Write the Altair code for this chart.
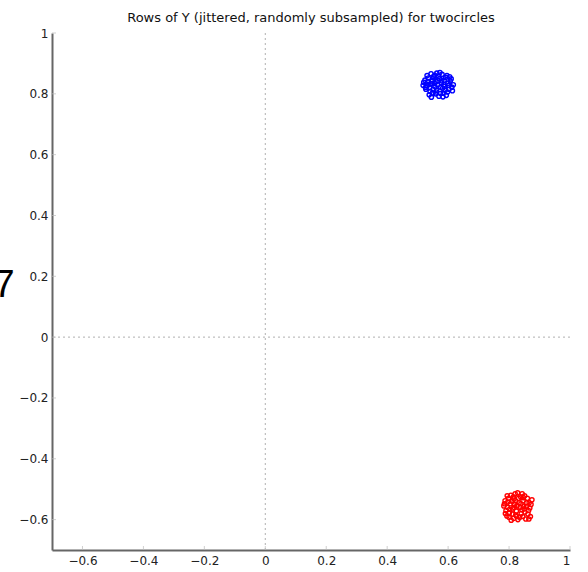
import altair as alt
import pandas as pd

# Jittered, subsampled rows of Y for the two clusters
blue_x = [0.565, 0.548, 0.582, 0.530, 0.600, 0.556, 0.575, 0.541, 0.592, 0.520,
          0.612, 0.563, 0.570, 0.535, 0.598, 0.551, 0.587, 0.527, 0.607, 0.559,
          0.544, 0.580, 0.538, 0.594, 0.617, 0.518, 0.572, 0.557, 0.586, 0.546,
          0.562, 0.578, 0.533, 0.603, 0.553, 0.569, 0.590, 0.540, 0.576, 0.560,
          0.610, 0.524, 0.549, 0.584, 0.566, 0.596, 0.531, 0.614, 0.545, 0.573,
          0.555, 0.588, 0.537, 0.602, 0.561, 0.579, 0.526, 0.605, 0.552, 0.583]
blue_y = [0.830, 0.842, 0.818, 0.826, 0.835, 0.861, 0.801, 0.808, 0.854, 0.838,
          0.822, 0.868, 0.792, 0.852, 0.806, 0.815, 0.845, 0.815, 0.842, 0.800,
          0.866, 0.864, 0.797, 0.795, 0.830, 0.828, 0.850, 0.824, 0.830, 0.834,
          0.812, 0.836, 0.840, 0.815, 0.852, 0.858, 0.812, 0.820, 0.822, 0.840,
          0.849, 0.845, 0.803, 0.802, 0.844, 0.860, 0.860, 0.810, 0.789, 0.870,
          0.834, 0.824, 0.831, 0.828, 0.806, 0.843, 0.821, 0.856, 0.857, 0.790]
red_x = [0.826, 0.810, 0.842, 0.795, 0.858, 0.820, 0.835, 0.801, 0.851, 0.785,
         0.868, 0.828, 0.815, 0.798, 0.862, 0.812, 0.846, 0.790, 0.872, 0.822,
         0.806, 0.838, 0.793, 0.855, 0.875, 0.783, 0.833, 0.818, 0.848, 0.804,
         0.824, 0.840, 0.796, 0.864, 0.816, 0.831, 0.852, 0.800, 0.836, 0.821,
         0.870, 0.787, 0.811, 0.845, 0.829, 0.860, 0.794, 0.866, 0.807, 0.843,
         0.817, 0.850, 0.802, 0.857, 0.825, 0.839, 0.788, 0.865, 0.814, 0.847]
red_y = [-0.555, -0.540, -0.568, -0.560, -0.545, -0.515, -0.592, -0.578, -0.522, -0.548,
         -0.562, -0.512, -0.596, -0.530, -0.582, -0.565, -0.538, -0.570, -0.550, -0.585,
         -0.520, -0.525, -0.588, -0.598, -0.535, -0.555, -0.545, -0.550, -0.556, -0.548,
         -0.572, -0.580, -0.542, -0.570, -0.532, -0.530, -0.575, -0.592, -0.560, -0.538,
         -0.590, -0.538, -0.582, -0.590, -0.600, -0.530, -0.522, -0.545, -0.602, -0.515,
         -0.560, -0.565, -0.566, -0.557, -0.590, -0.548, -0.580, -0.598, -0.525, -0.528]

tick_values = [-0.6, -0.4, -0.2, 0, 0.2, 0.4, 0.6, 0.8, 1]
y_tick_values = [-0.6, -0.4, -0.2, 0, 0.2, 0.4, 0.6, 0.8, 1]

points = pd.DataFrame({
    "x": blue_x + red_x,
    "y": blue_y + red_y,
    "cluster": ["blue"] * len(blue_x) + ["red"] * len(red_x),
})

xs = alt.Scale(domain=[-0.7, 1], nice=False, zero=False)
ys = alt.Scale(domain=[-0.7, 1], nice=False, zero=False)

x_axis = alt.Axis(values=tick_values, format="~g", ticks=False, grid=False,
                  domainColor="#666666", domainWidth=2, labelColor="#222222",
                  labelFontSize=12, labelFont="DejaVu Sans", labelPadding=5,
                  title=None)
y_axis = alt.Axis(values=y_tick_values, format="~g", ticks=False, grid=False,
                  domainColor="#666666", domainWidth=2, labelColor="#222222",
                  labelFontSize=12, labelFont="DejaVu Sans", labelPadding=4,
                  title=None)

scatter = alt.Chart(points).mark_point(filled=False, size=18, strokeWidth=1.4, opacity=1).encode(
    x=alt.X("x:Q", scale=xs, axis=x_axis),
    y=alt.Y("y:Q", scale=ys, axis=y_axis),
    color=alt.Color("cluster:N",
                    scale=alt.Scale(domain=["blue", "red"], range=["#0000ff", "#ff0000"]),
                    legend=None),
)

# Dotted zero lines
zero = pd.DataFrame({"v": [0]})
vline = alt.Chart(zero).mark_rule(color="#b0b0b0", strokeDash=[2, 3], strokeWidth=1).encode(
    x=alt.X("v:Q", scale=xs)
)
hline = alt.Chart(zero).mark_rule(color="#b0b0b0", strokeDash=[2, 3], strokeWidth=1).encode(
    y=alt.Y("v:Q", scale=ys)
)

# Inward tick marks on both axes
xt = pd.DataFrame({"t": tick_values, "base": [-0.7] * len(tick_values)})
yt = pd.DataFrame({"t": y_tick_values, "base": [-0.7] * len(y_tick_values)})
xticks = alt.Chart(xt).mark_tick(color="#bbbbbb", size=4, thickness=1, yOffset=-2, orient="vertical").encode(
    x=alt.X("t:Q", scale=xs), y=alt.Y("base:Q", scale=ys)
)
yticks = alt.Chart(yt).mark_tick(color="#bbbbbb", size=4, thickness=1, xOffset=2, orient="horizontal").encode(
    y=alt.Y("t:Q", scale=ys), x=alt.X("base:Q", scale=xs)
)

ylab = alt.Chart(pd.DataFrame({"s": ["7"]})).mark_text(
    fontSize=38, font="Liberation Sans", color="#000000", align="center", baseline="alphabetic"
).encode(text="s:N", x=alt.value(-48), y=alt.value(264))

chart = alt.layer(vline, hline, xticks, yticks, scatter, ylab).properties(
    width=518,
    height=517,
    title=alt.TitleParams(
        "Rows of Y (jittered, randomly subsampled) for twocircles",
        fontSize=13, font="DejaVu Sans", fontWeight="normal", color="#111111",
        anchor="middle", offset=2,
    ),
    autosize=alt.AutoSizeParams(type="none"),
    padding={"left": 52, "top": 33, "right": 18, "bottom": 22},
).configure_view(stroke=None)

chart.save("out.html", embed_options={"renderer": "svg", "actions": False})
